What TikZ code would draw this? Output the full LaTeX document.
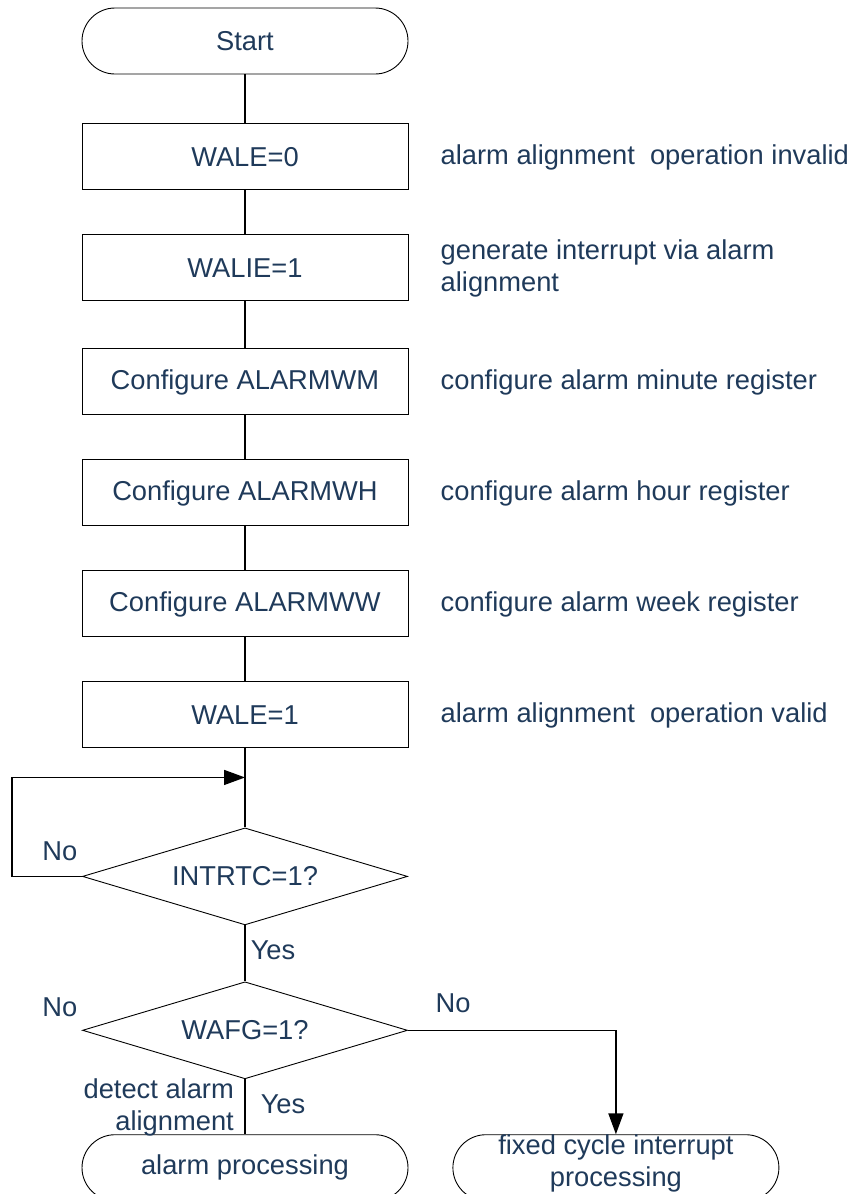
\documentclass[tikz,border=0pt]{standalone}
\usepackage{fontspec}
\setmainfont{Liberation Sans}
\usetikzlibrary{positioning, shapes.geometric, arrows.meta}
\definecolor{txtblue}{HTML}{1F3A5A}
\tikzset{>={Triangle[length=21pt,width=15pt]}}
\tikzset{
    every node/.style={text=txtblue, font=\fontsize{27.3}{32}\selectfont},
    terminal/.style={draw=black, line width=0.9pt, rounded corners=33pt, minimum width=326pt, minimum height=66pt, inner sep=0pt, align=center},
    process/.style={draw=black, line width=1pt, minimum width=326pt, minimum height=66pt, inner sep=0pt},
    decision/.style={draw=black, line width=0.9pt, diamond, aspect=3.35, minimum width=325pt, minimum height=97pt, inner sep=0pt},
    note/.style={inner sep=0pt, align=left},
    lbl/.style={inner sep=0pt},
    flow/.style={draw=black, line width=1.5pt}
}

\begin{document}
\begin{tikzpicture}[x=1pt, y=-1pt]
    \useasboundingbox (0,0) rectangle (854,1194);

    \node[terminal] (start) at (245,41) {Start};
    \node[process, below=49pt of start] (wale0) {WALE=0};
    \node[process, below=44pt of wale0] (walie) {WALIE=1};
    \node[process, below=47pt of walie] (almwm) {Configure ALARMWM};
    \node[process, below=44pt of almwm] (almwh) {Configure ALARMWH};
    \node[process, below=44pt of almwh] (almww) {Configure ALARMWW};
    \node[process, below=44pt of almww] (wale1) {WALE=1};
    \node[decision, below=79pt of wale1] (intrtc) {INTRTC=1?};
    \node[decision, below=56pt of intrtc] (wafg) {WAFG=1?};
    \node[terminal, below=55pt of wafg] (alarmproc) {alarm processing};
    \node[terminal, right=44pt of alarmproc, text depth=14pt] (fixedproc) {fixed cycle interrupt\\processing};
    \coordinate[below=29pt of wale1] (join);

    % notes on the right
    \node[note, right=32pt of wale0] (nwale0) {alarm alignment\ \ operation invalid};
    \node[note, right=32pt of walie] (nwalie) {generate interrupt via alarm\\alignment};
    \node[note, right=32pt of almwm] (nalmwm) {configure alarm minute register};
    \node[note, right=32pt of almwh] (nalmwh) {configure alarm hour register};
    \node[note, right=32pt of almww] (nalmww) {configure alarm week register};
    \node[note, right=32pt of wale1] (nwale1) {alarm alignment\ \ operation valid};

    \draw[flow]
    (start) -- (wale0)
    (wale0) -- (walie)
    (walie) -- (almwm)
    (almwm) -- (almwh)
    (almwh) -- (almww)
    (almww) -- (wale1)
    (wale1) -- (intrtc)
    (intrtc) -- node[lbl, pos=0.45, right=5pt] (yes1) {Yes} (wafg)
    (wafg) -- node[lbl, pos=0.45, right=15pt] (yes2) {Yes} (alarmproc)
    ;

    \draw[flow, ->] (intrtc.west) -- ++(-70pt,0) |- (join);
    \draw[flow, ->] (wafg.east) -| (fixedproc.north);

    \node[lbl, above left=15pt and 4.5pt of intrtc.west] (no1) {No};
    \node[lbl, above left=13pt and 4.5pt of wafg.west] (no2) {No};
    \node[lbl, above right=17pt and 27.5pt of wafg.east] (no3) {No};
    \node[lbl, align=right, left=11pt of yes2.west, anchor=east, xshift=-15pt, yshift=-3pt] (detect) {detect alarm\\alignment};
\end{tikzpicture}
\end{document}
